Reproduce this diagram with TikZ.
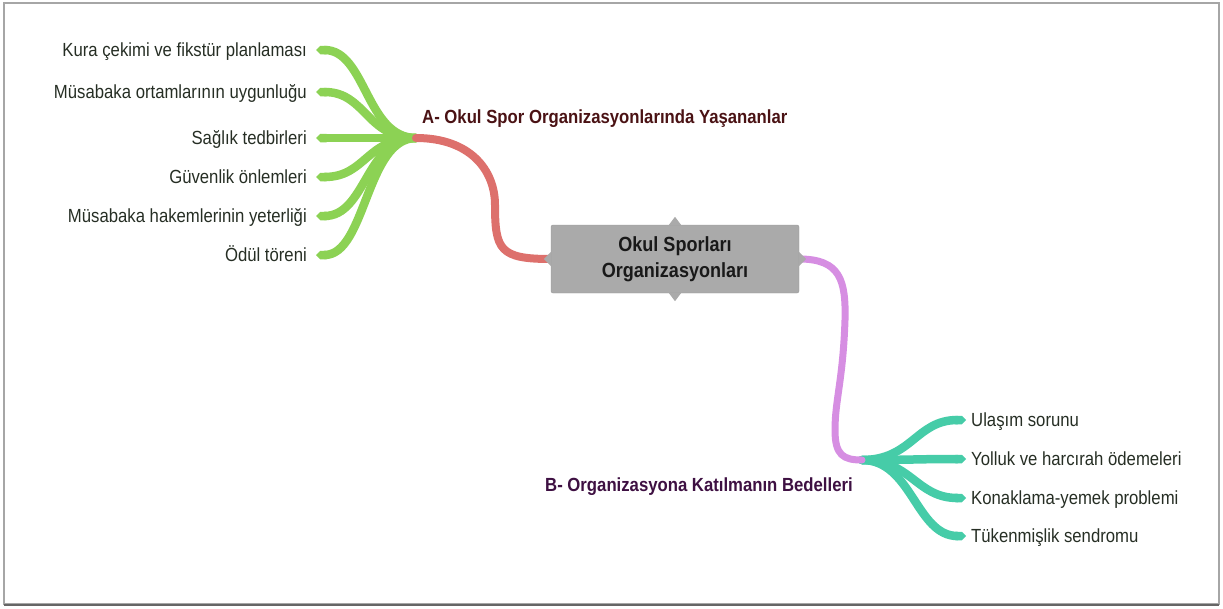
\documentclass[tikz,border=0pt]{standalone}
\usepackage{fontspec}
\setmainfont{Liberation Sans}[FakeStretch=0.88]
\usetikzlibrary{arrows.meta,backgrounds}

\definecolor{leafgreen}{RGB}{140,210,84}
\definecolor{linkred}{RGB}{221,112,108}
\definecolor{linkpurple}{RGB}{214,142,226}
\definecolor{leafteal}{RGB}{70,204,168}
\definecolor{boxgray}{RGB}{170,170,170}
\definecolor{titlered}{RGB}{74,18,20}
\definecolor{titlepurple}{RGB}{62,16,66}
\definecolor{leaftext}{RGB}{38,46,36}

\begin{document}
\begin{tikzpicture}[x=1pt,y=-1pt,
  leafL/.style={anchor=east,inner xsep=9pt,inner ysep=0pt,text height=13.5pt,text depth=0pt,
    font=\fontsize{19}{22}\selectfont,text=leaftext},
  leafR/.style={leafL,anchor=west,inner xsep=5pt},
  topic/.style={anchor=base west,inner sep=0pt,font=\bfseries\fontsize{19}{22}\selectfont},
  central/.style={draw=black!40,fill=boxgray,rounded corners=2pt,minimum width=248pt,
    minimum height=68pt,align=center,font=\bfseries\fontsize{20.5}{25.5}\selectfont,text=black!90},
  branch/.style={line width=8.5pt,line cap=round}]

\useasboundingbox (0,0) rectangle (1223,608);
\draw[black!35,line width=1.2pt] (4,3) rectangle (1219,604);
\draw[black!60,line width=2pt] (4,605) -- (1219,605);

% central topic
\node[central] (center) at (675,259) {Okul Sporları\\Organizasyonları};
\fill[boxgray] ([xshift=-6pt]center.north) -- ++(6,-8) -- ++(6,8) -- cycle;
\fill[boxgray] ([xshift=-6pt]center.south) -- ++(6,8) -- ++(6,-8) -- cycle;
\fill[boxgray] (center.west) ++(0,-7) -- ++(-7,7) -- ++(7,7) -- cycle;
\fill[boxgray] (center.east) ++(0,-7) -- ++(7,7) -- ++(-7,7) -- cycle;

\coordinate (hubA) at (416,138);
\coordinate (hubB) at (862,460);

\node[topic,text=titlered] (labA) at (422,123) {A- Okul Spor Organizasyonlarında Yaşananlar};
\node[topic,text=titlepurple] (labB) at (545,491) {B- Organizasyona Katılmanın Bedelleri};

% leaves
\foreach \i/\y/\txt in {1/50/Kura çekimi ve fikstür planlaması,
    2/92/Müsabaka ortamlarının uygunluğu,
    3/138/Sağlık tedbirleri,
    4/177/Güvenlik önlemleri,
    5/216/Müsabaka hakemlerinin yeterliği,
    6/255/Ödül töreni}
  \node[leafL] (g\i) at (316,\y) {\txt};

\foreach \i/\y/\txt in {1/420/Ulaşım sorunu,
    2/459/Yolluk ve harcırah ödemeleri,
    3/498/Konaklama-yemek problemi,
    4/536/Tükenmişlik sendromu}
  \node[leafR] (t\i) at (966,\y) {\txt};

\begin{scope}[on background layer]
  \foreach \i in {1,...,6}
    \draw[branch,leafgreen,-{Triangle Cap}] (hubA) .. controls +(-50,0) and +(50,0) .. (g\i.east);
  \foreach \i in {1,...,4}
    \draw[branch,leafteal,-{Triangle Cap}] (hubB) .. controls +(50,0) and +(-50,0) .. (t\i.west);
  \draw[branch,linkred,line width=8pt] (hubA) .. controls (470,138) and (495,170) .. (495,205)
    .. controls (495,250) and (500,259) .. (center.west);
  \draw[branch,linkpurple,line width=7pt] (center.east) .. controls (840,259) and (846,280) .. (845,320)
    .. controls (843,380) and (835,400) .. (835,430) .. controls (835,455) and (843,460) .. (hubB);
\end{scope}

\end{tikzpicture}
\end{document}
